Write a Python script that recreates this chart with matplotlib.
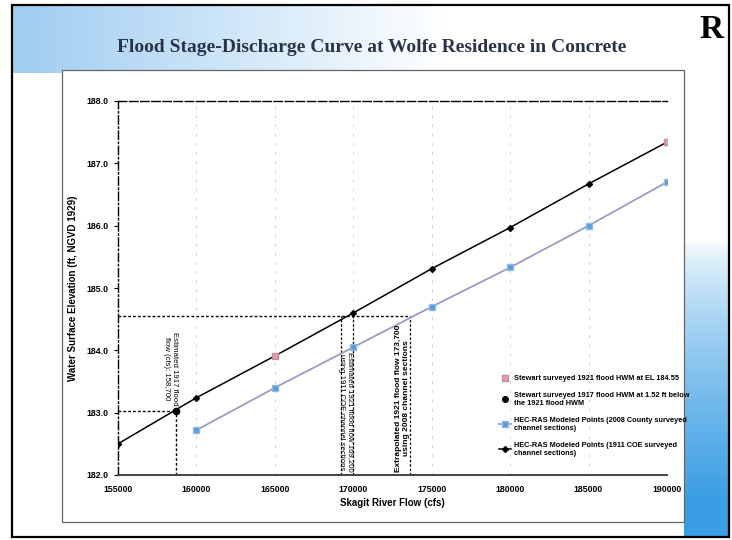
import numpy as np
import matplotlib
matplotlib.use("Agg")
import matplotlib.pyplot as plt
from matplotlib.patches import Rectangle
from matplotlib.lines import Line2D

# ---------------- data ----------------
flow_1911 = [155000, 160000, 165000, 170000, 175000, 180000, 185000, 190000]
stage_1911 = [182.50, 183.24, 183.91, 184.60, 185.31, 185.97, 186.67, 187.34]

flow_2008 = [160000, 165000, 170000, 175000, 180000, 185000, 190000]
stage_2008 = [182.72, 183.40, 184.05, 184.70, 185.33, 186.00, 186.70]

flow_1921_hwm = [165000, 190000]
stage_1921_hwm = [183.91, 187.34]

flow_1917_hwm = [158700]
stage_1917_hwm = [183.03]

hwm_1921_level = 184.55
flow_1921_cole = 169200
flow_1921_2008 = 173600

x_ticks = [155000, 160000, 165000, 170000, 175000, 180000, 185000, 190000]
y_ticks = [182.0, 183.0, 184.0, 185.0, 186.0, 187.0, 188.0]

title = "Flood Stage-Discharge Curve at Wolfe Residence in Concrete"
x_label = "Skagit River Flow (cfs)"
y_label = "Water Surface Elevation (ft, NGVD 1929)"
legend_labels = [
    "Stewart surveyed 1921 flood HWM at EL 184.55",
    "Stewart surveyed 1917 flood HWM at 1.52 ft below\nthe 1921 flood HWM",
    "HEC-RAS Modeled Points (2008 County surveyed\nchannel sections)",
    "HEC-RAS Modeled Points (1911 COE surveyed\nchannel sections)",
]
note_1917 = "Estimated 1917 flood\nflow (cfs): 158,700"
note_1921_cole = "Estimated 1921 flood flow 169,200\nusing 1911 COE channel sections"
note_1921_2008 = "Extrapolated 1921 flood flow 173,700\nusing 2008 channel sections"

SANS = ["Liberation Sans", "DejaVu Sans"]

W, H = 732, 540
fig = plt.figure(figsize=(W / 100, H / 100), dpi=100)

# ---------------- slide background ----------------
bg = fig.add_axes([0, 0, 1, 1])
bg.set_xlim(0, W)
bg.set_ylim(H, 0)
bg.axis("off")
img = np.ones((H, W, 3))
yy, xx = np.mgrid[0:H, 0:W]
blue1 = np.array([135, 192, 238]) / 255.0
a1 = np.clip(1 - (xx - 14) / 430.0, 0, 1) * 0.8
a1 = np.where((yy >= 6) & (yy <= 72) & (xx >= 13), a1, 0)
blue2 = np.array([58, 158, 228]) / 255.0
a2 = np.clip((yy - 240) / 260.0, 0, 1) ** 0.7
a2 = np.where((xx >= 684) & (xx <= 728) & (yy <= 536), a2, 0)
for a, c in ((a1, blue1), (a2, blue2)):
    img = img * (1 - a[..., None]) + c[None, None, :] * a[..., None]
bg.imshow(img, extent=[0, W, H, 0], aspect="auto", zorder=0)
bg.add_patch(Rectangle((62, 70), 622, 452, facecolor="white", edgecolor="#666666", lw=0.9, zorder=1))
bg.add_patch(Rectangle((12, 5), 717, 532, facecolor="none", edgecolor="black", lw=1.6, zorder=2))
bg.text(372, 48, title, ha="center", va="center", fontsize=14, fontweight="bold",
        family="Liberation Serif", color="#2a3448", zorder=3)
bg.text(712, 30, "R", ha="center", va="center", fontsize=24, fontweight="bold",
        family=["Liberation Serif", "DejaVu Serif"], color="black", zorder=3)

# ---------------- chart ----------------
ax = fig.add_axes([118 / W, 1 - 475 / H, (667 - 118) / W, (475 - 101) / H])
ax.set_xlim(155000, 190000)
ax.set_ylim(182.0, 188.0)
ax.patch.set_alpha(0)

# faint dashed verticals
for xv in x_ticks[1:]:
    ax.axvline(xv, color="black", lw=0.6, ls=(0, (3, 8)), alpha=0.22, zorder=1)

# guide lines
dot = (0, (2, 1.5))
ax.plot([155000, flow_1917_hwm[0]], [stage_1917_hwm[0]] * 2, color="black", lw=1.0, ls=dot, zorder=2)
ax.plot([flow_1917_hwm[0]] * 2, [182.0, stage_1917_hwm[0]], color="black", lw=1.0, ls=dot, zorder=2)
ax.plot([155000, flow_1921_2008], [hwm_1921_level] * 2, color="black", lw=1.0, ls=dot, zorder=2)
for xv in (flow_1921_cole, 170000, flow_1921_2008):
    ax.plot([xv, xv], [182.0, hwm_1921_level], color="black", lw=0.9, ls=dot, zorder=2)

# series
ax.plot(flow_2008, stage_2008, color="#9a9cc0", lw=1.3, marker="s", ms=4.5,
        mfc="#5b9bd5", mec="#8fbbe6", zorder=3)
ax.plot(flow_1911, stage_1911, color="black", lw=1.1, marker="D", ms=3, mfc="black",
        mec="black", zorder=4)
ax.plot(flow_1921_hwm, stage_1921_hwm, ls="none", marker="s", ms=4.5, mfc="#d9a0ae",
        mec="#c78c9a", zorder=5)
ax.plot(flow_1917_hwm, stage_1917_hwm, ls="none", marker="o", ms=4.5, color="black", zorder=5)

# notes
ax.text(158350, 183.12, note_1917, rotation=270, ha="center", va="bottom", fontsize=5.6,
        family=SANS, linespacing=1.3, zorder=6)
ax.text(169550, 182.05, note_1921_cole, rotation=270, ha="center", va="bottom", fontsize=5.6,
        family=SANS, linespacing=1.3, zorder=6)
ax.text(173150, 182.05, note_1921_2008, rotation=90, ha="center", va="bottom", fontsize=6,
        family=SANS, fontweight="bold", linespacing=1.1, zorder=6)

# axes styling
ax.set_xticks(x_ticks)
ax.set_xticklabels([f"{v:d}" for v in x_ticks])
ax.set_yticks(y_ticks)
ax.set_yticklabels([f"{v:.1f}" for v in y_ticks])
ax.tick_params(axis="both", labelsize=6.3, length=3, width=0.8, pad=4)
for lab in ax.get_xticklabels() + ax.get_yticklabels():
    lab.set_fontweight("bold")
    lab.set_family(SANS)
ax.tick_params(axis="x", length=0, pad=7)
ax.spines["right"].set_visible(False)
ax.spines["top"].set_linestyle((0, (6, 2)))
ax.spines["top"].set_linewidth(1.0)
ax.spines["left"].set_linestyle((0, (6, 2, 1, 2)))
ax.spines["left"].set_linewidth(1.0)
ax.spines["bottom"].set_color("#444444")
ax.spines["bottom"].set_linewidth(1.4)
ax.set_xlabel(x_label, fontsize=7, fontweight="bold", family=SANS, labelpad=3)
ax.set_ylabel(y_label, fontsize=7, fontweight="bold", family=SANS, labelpad=6)

handles = [
    Line2D([], [], ls="none", marker="s", ms=4.5, mfc="#d9a0ae", mec="#c78c9a"),
    Line2D([], [], ls="none", marker="o", ms=4, color="black"),
    Line2D([], [], color="#9a9cc0", lw=1.3, marker="s", ms=4, mfc="#5b9bd5", mec="#8fbbe6"),
    Line2D([], [], color="black", lw=1.1, marker="D", ms=3, mfc="black"),
]
leg = ax.legend(handles, legend_labels, loc="upper left",
                bbox_to_anchor=(496 / W, 1 - 372 / H), bbox_transform=fig.transFigure,
                frameon=False, prop={"family": SANS, "size": 5.3, "weight": "bold"},
                handlelength=1.6, handletextpad=0.5, labelspacing=1.35, borderaxespad=0)

fig.savefig("out.png", dpi=100)
